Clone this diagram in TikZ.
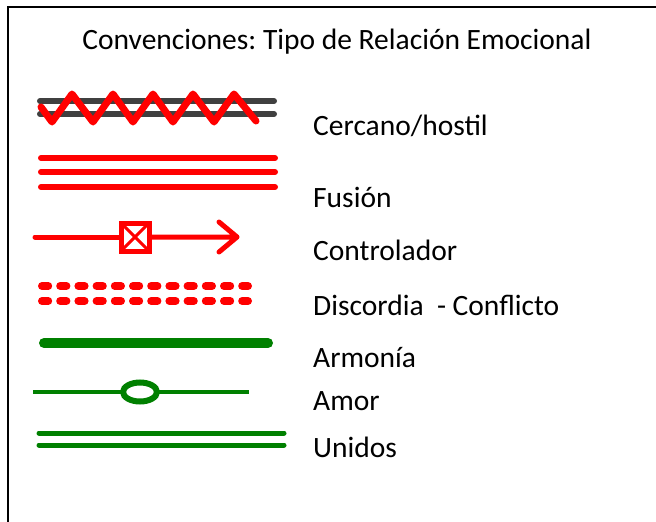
\documentclass[tikz,border=0pt]{standalone}
\usepackage{fontspec}
\setmainfont{Carlito}
\usepackage{tikz}
\frenchspacing
\definecolor{gris}{RGB}{64,64,64}
\definecolor{rojo}{RGB}{255,0,0}
\definecolor{verde}{RGB}{0,128,0}
\newcommand{\legendtext}[3]{\node[anchor=base west,inner sep=0pt,font=\fontsize{29.5}{35}\selectfont] (#1) at (313,#3) {#2};}
\newcommand{\drawred}{\draw[rojo,line width=6pt,line cap=round]}
\newcommand{\drawgreen}{\draw[verde,line cap=round]}

\begin{document}
\begin{tikzpicture}[x=1pt,y=-1pt]
\useasboundingbox (0,0) rectangle (656,522);
\draw[line width=2pt] (8,522)--(8,7)--(656,7);
\node[anchor=base,inner sep=0pt,font=\fontsize{29.5}{35}\selectfont] (titulo) at (337,49) {Convenciones: Tipo de Relación Emocional};
% cercano/hostil
\draw[gris,line width=6pt,line cap=round] (40,101)--(274,101);
    \draw[gris,line width=6pt,line cap=round] (40,114)--(274,114);
    \draw[rojo,line width=7pt,line cap=round,line join=round] (41,107)--(52,122)--(72,94)--(93,122)--(113,94)--(133,122)--(153,94)--(173,122)--(193,94)--(214,122)--(234,94)--(256,121);
% fusion
\drawred (41,158)--(275,158);
    \drawred (41,172)--(275,172);
    \drawred (41,187)--(275,187);
% controlador
\node[draw=rojo,line width=5pt,minimum size=28pt,inner sep=0pt,
      path picture={\draw[rojo,line width=3pt] (path picture bounding box.north west)--(path picture bounding box.south east)
                    (path picture bounding box.north east)--(path picture bounding box.south west);}] (caja) at (135,237) {};
    \coordinate (ini) at (35,237);
    \coordinate (punta) at (237,237);
    \draw[rojo,line width=5pt,line cap=round] (ini)--(caja.west);
    \draw[rojo,line width=5pt,line cap=round,line join=round] (caja.east)--(punta) (219,222)--(punta)--(219,252);
% discordia
\draw[rojo,line width=8pt,line cap=round,dash pattern=on 6.2pt off 12pt] (42,286)--(248,286);
    \draw[rojo,line width=8pt,line cap=round,dash pattern=on 6.2pt off 12pt] (42,301)--(248,301);
% armonia
\drawgreen[line width=10pt] (44,343)--(268,343);
% amor
\coordinate (a1) at (33,392);
    \coordinate (a2) at (249,392);
    \draw[verde,line width=4pt] (a1)--(a2);
    \draw[verde,line width=6pt,fill=white] (140,392) ellipse [x radius=17pt,y radius=9.5pt];
% unidos
\drawgreen[line width=5pt] (39,433)--(284,433);
    \drawgreen[line width=5pt] (39,445)--(284,445);
\legendtext{cercano}{Cercano/hostil}{135}\legendtext{fusion}{Fusión}{207}\legendtext{controlador}{Controlador}{260}\legendtext{discordia}{Discordia\ \ - Conflicto}{315}\legendtext{armonia}{Armonía}{367}\legendtext{amor}{Amor}{410}\legendtext{unidos}{Unidos}{457}
\end{tikzpicture}
\end{document}
